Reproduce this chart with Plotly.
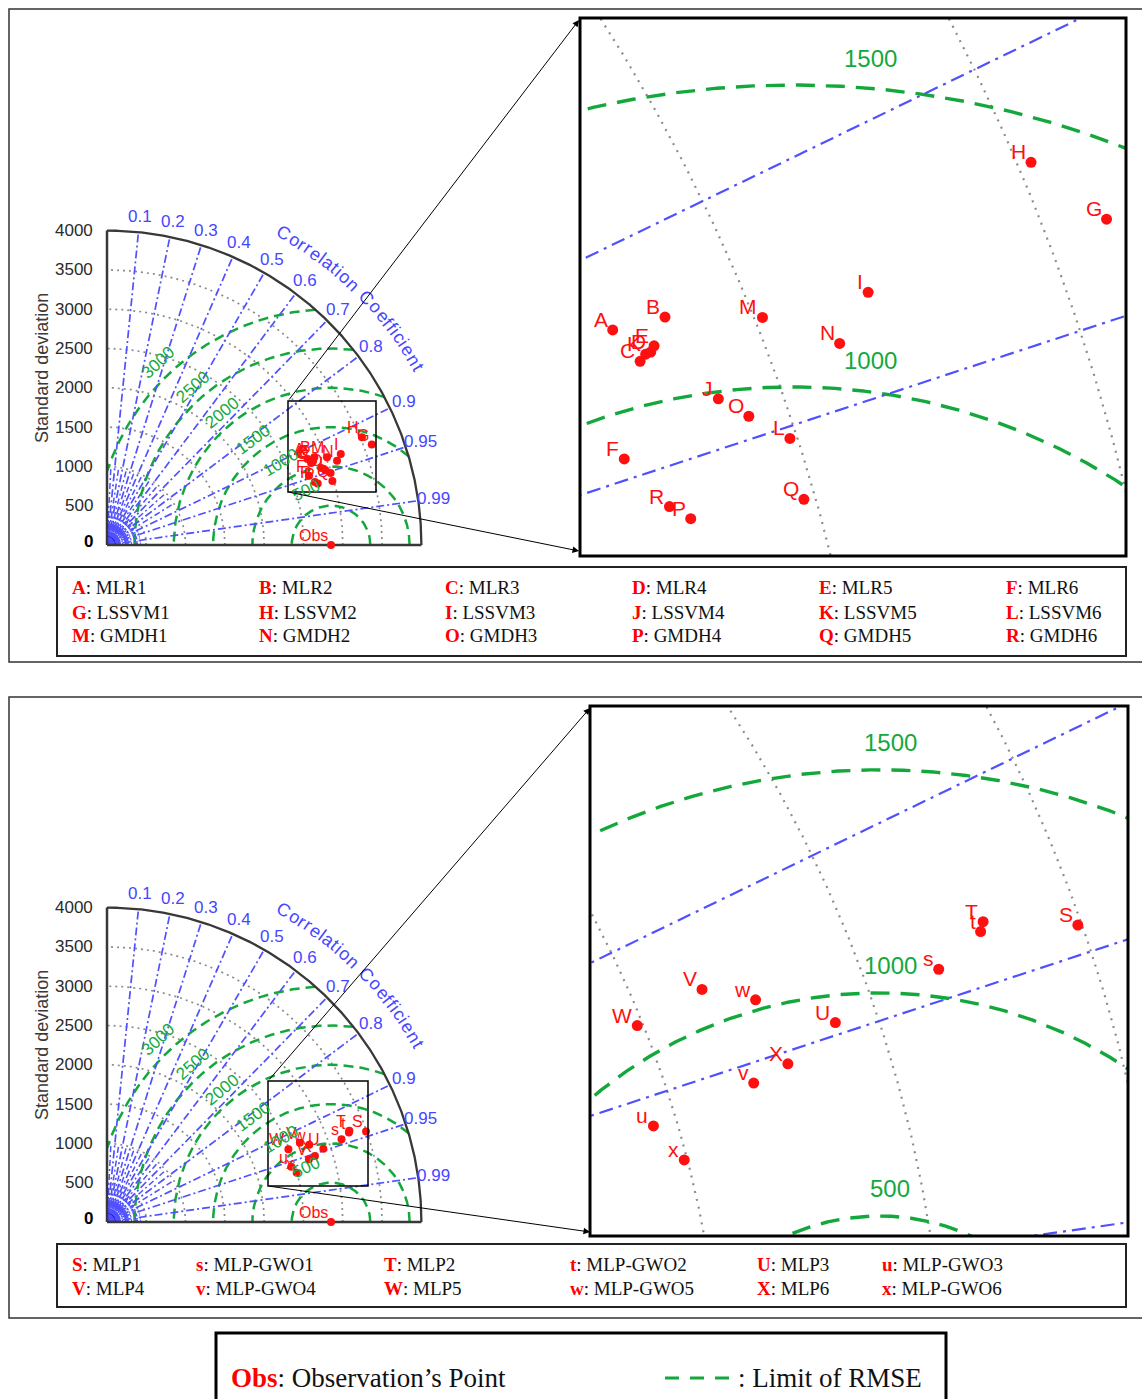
import numpy as np
import plotly.graph_objects as go

W, H = 1142, 1399

# ---------------- data ----------------
obs_std = 2850
std_max = 4000
std_ticks = [0, 500, 1000, 1500, 2000, 2500, 3000, 3500, 4000]
std_grid = [500, 1000, 1500, 2000, 2500, 3000, 3500]
rmse_levels = [500, 1000, 1500, 2000, 2500, 3000]
corr_ticks = [0.1, 0.2, 0.3, 0.4, 0.5, 0.6, 0.7, 0.8, 0.9, 0.95, 0.99]

labels1 = ["A", "B", "C", "D", "E", "F", "G", "H", "I", "J", "K", "L",
           "M", "N", "O", "P", "Q", "R"]
models1 = ["MLR1", "MLR2", "MLR3", "MLR4", "MLR5", "MLR6",
           "LSSVM1", "LSSVM2", "LSSVM3", "LSSVM4", "LSSVM5", "LSSVM6",
           "GMDH1", "GMDH2", "GMDH3", "GMDH4", "GMDH5", "GMDH6"]
std1 = [2776, 2864, 2798, 2820, 2829, 2717, 3603, 3522, 3191, 2897, 2811, 2988,
        3013, 3117, 2935, 2792, 2981, 2764]
corr1 = [0.919, 0.921, 0.928, 0.927, 0.926, 0.946, 0.935, 0.921, 0.932, 0.941, 0.927, 0.952,
         0.929, 0.939, 0.946, 0.960, 0.962, 0.957]

labels2 = ["S", "s", "T", "t", "U", "u", "V", "v", "W", "w", "X", "x"]
models2 = ["MLP1", "MLP-GWO1", "MLP2", "MLP-GWO2", "MLP3", "MLP-GWO3",
           "MLP4", "MLP-GWO4", "MLP5", "MLP-GWO5", "MLP6", "MLP-GWO6"]
std2 = [3491, 3164, 3294, 3281, 2906, 2447, 2652, 2690, 2487, 2755, 2776, 2493]
corr2 = [0.944, 0.943, 0.936, 0.938, 0.947, 0.958, 0.925, 0.955, 0.928, 0.934, 0.953, 0.968]

# ---------------- styles ----------------
RED = "#FF1010"
GREEN = "#14A83C"
BLUE = "#5050FF"
BLUE_T = "#4646FF"
GRAY = "#8C8C8C"
DARK = "#383838"
SANS = "Liberation Sans, Arial, sans-serif"
SERIF = "Liberation Serif, Times New Roman, serif"

fig = go.Figure()
axes = {}
annos = []
shapes = []


def xa(n):
    return "x" if n == 1 else f"x{n}"


def ya(n):
    return "y" if n == 1 else f"y{n}"


def set_axes(n, xpx, ypx, xr, yr):
    kx = "xaxis" if n == 1 else f"xaxis{n}"
    ky = "yaxis" if n == 1 else f"yaxis{n}"
    axes[kx] = dict(domain=[xpx[0] / W, xpx[1] / W], range=xr, visible=False,
                    fixedrange=True, anchor=ya(n))
    axes[ky] = dict(domain=[1 - ypx[1] / H, 1 - ypx[0] / H], range=yr, visible=False,
                    fixedrange=True, anchor=xa(n))


def line(n, x, y, color, width, dash="solid", fill=None):
    x = [None if (v is None or np.isnan(v)) else float(v) for v in x]
    y = [None if (v is None or np.isnan(v)) else float(v) for v in y]
    fig.add_trace(go.Scatter(x=x, y=y, mode="lines", xaxis=xa(n), yaxis=ya(n),
                             line=dict(color=color, width=width, dash=dash),
                             fill=fill, fillcolor=color if fill else None,
                             hoverinfo="skip", showlegend=False))


def draw_taylor(n, std, corr, labels, main):
    gw = 1.7 if main else 2.2
    th = np.linspace(0, np.pi / 2, 361)
    # std dotted arcs
    for r in std_grid:
        line(n, r * np.cos(th), r * np.sin(th), GRAY, gw, "2px,4px" if main else "2px,6px")
    # extra radial fan near origin (main only)
    if main:
        main_angles = [np.degrees(np.arccos(c)) for c in corr_ticks]
        for ang in np.arange(3, 89, 3.0):
            if min(abs(ang - m) for m in main_angles) < 1.2:
                continue
            a = np.radians(ang)
            line(n, [0, 430 * np.cos(a)], [0, 430 * np.sin(a)], BLUE, 1.4, "4px,2px,1px,2px")
        for c in [0.05, 0.15, 0.25, 0.35, 0.45, 0.55, 0.65, 0.75, 0.85]:
            a = np.arccos(c)
            line(n, [0, 1000 * np.cos(a)], [0, 1000 * np.sin(a)], BLUE, 1.5, "6px,3px,2px,3px")
        for r in [170, 240]:
            line(n, r * np.cos(th), r * np.sin(th), BLUE, 1.6)
        line(n, np.r_[0, 110 * np.cos(th), 0], np.r_[0, 110 * np.sin(th), 0], "#1010DD", 1, fill="toself")
    # RMSE arcs centred on observation
    ph = np.linspace(0, np.pi, 2001)
    for R in rmse_levels:
        x = obs_std + R * np.cos(ph)
        y = R * np.sin(ph)
        ok = (x >= 0) & (np.hypot(x, y) <= std_max + 1)
        line(n, np.where(ok, x, np.nan), np.where(ok, y, np.nan), GREEN,
             2.5 if main else 3.4, "10px,6px" if main else "19px,11px")
    # correlation lines
    for c in corr_ticks:
        a = np.arccos(c)
        line(n, [0, std_max * np.cos(a)], [0, std_max * np.sin(a)], BLUE,
             1.7 if main else 2.2, "8px,3px,2px,3px" if main else "14px,6px,3px,6px")
    # frame of the diagram
    if main:
        line(n, std_max * np.cos(th), std_max * np.sin(th), DARK, 2.3)
        line(n, [0, std_max], [0, 0], DARK, 2.5)
        line(n, [0, 0], [0, std_max], DARK, 2.5)
    # model points
    xs = [s * c for s, c in zip(std, corr)]
    ys = [s * np.sqrt(1 - c * c) for s, c in zip(std, corr)]
    fig.add_trace(go.Scatter(x=xs, y=ys, mode="markers", xaxis=xa(n), yaxis=ya(n),
                             marker=dict(color=RED, size=8 if main else 11),
                             hoverinfo="skip", showlegend=False))
    for lab, px_, py_ in zip(labels, xs, ys):
        annos.append(dict(x=px_, y=py_, xref=xa(n), yref=ya(n), text=lab, showarrow=False,
                          xanchor="right", yanchor="bottom",
                          xshift=-1 if main else -3, yshift=-1 if main else -3,
                          font=dict(color=RED, size=16 if main else 21, family=SANS)))
    if main:
        fig.add_trace(go.Scatter(x=[obs_std], y=[0], mode="markers", xaxis=xa(n), yaxis=ya(n),
                                 marker=dict(color=RED, size=8), cliponaxis=False,
                                 hoverinfo="skip", showlegend=False))
        annos.append(dict(x=obs_std, y=0, xref=xa(n), yref=ya(n), text="Obs", showarrow=False,
                          xanchor="right", yanchor="bottom", xshift=-1, yshift=-1,
                          font=dict(color=RED, size=16, family=SANS)))


def main_annotations(n, k):
    xr, yr = xa(n), ya(n)
    for t in std_ticks:
        annos.append(dict(x=-12 / k, y=t + (40 if t == 0 else 0), xref=xr, yref=yr,
                          text=str(t) if t else "<b>0</b>",
                          showarrow=False, xanchor="right", yanchor="middle",
                          font=dict(size=17, color="#2a2a2a" if t else "#000", family=SANS)))
    annos.append(dict(x=-830, y=2250, xref=xr, yref=yr, text="Standard deviation",
                      showarrow=False, textangle=-90, xanchor="center", yanchor="middle",
                      font=dict(size=18, color="#3a3a3a", family=SANS)))
    for c in corr_ticks:
        a = np.arccos(c)
        annos.append(dict(x=4200 * np.cos(a), y=4200 * np.sin(a), xref=xr, yref=yr,
                          text=f"{c:g}", showarrow=False, xanchor="center", yanchor="middle",
                          font=dict(size=17, color=BLUE_T, family=SANS)))
    title = "Correlation Coefficient"
    wtab = {"C": .722, "o": .556, "r": .333, "e": .556, "l": .222, "a": .556, "t": .278,
            "i": .222, "n": .556, " ": .278, "f": .278, "c": .5}
    w = np.array([wtab[ch] for ch in title])
    cen = np.cumsum(w) - w / 2
    frac = (cen - cen[0]) / (cen[-1] - cen[0])
    ths = 60.5 - frac * (60.5 - 29.8)
    for ch, tdeg in zip(title, ths):
        if ch == " ":
            continue
        a = np.radians(tdeg)
        annos.append(dict(x=4560 * np.cos(a), y=4560 * np.sin(a), xref=xr, yref=yr, text=ch,
                          showarrow=False, textangle=90 - tdeg, xanchor="center", yanchor="middle",
                          font=dict(size=18, color=BLUE_T, family=SANS)))
    lab_ang = [114.5, 121.4, 126.3, 129.3, 131.3, 133.4]
    lab_off = [260, 225, 170, 180, 170, 200]
    for R, ang, off in zip(rmse_levels, lab_ang, lab_off):
        a = np.radians(ang)
        annos.append(dict(x=obs_std + (R + off) * np.cos(a), y=(R + off) * np.sin(a),
                          xref=xr, yref=yr, text=str(R), showarrow=False,
                          textangle=-(ang - 90), xanchor="center", yanchor="middle",
                          font=dict(size=17, color=GREEN, family=SANS)))


def inset_labels(n, levels, dx, dy):
    for R in levels:
        annos.append(dict(x=obs_std + dx, y=R + dy, xref=xa(n), yref=ya(n), text=str(R),
                          showarrow=False, xanchor="center", yanchor="middle",
                          font=dict(size=24, color=GREEN, family=SANS)))


def rect(x0, y0, x1, y1, color="black", width=1.5):
    shapes.append(dict(type="rect", xref="paper", yref="paper", x0=x0 / W, x1=x1 / W,
                       y0=1 - y1 / H, y1=1 - y0 / H, line=dict(color=color, width=width),
                       fillcolor="rgba(0,0,0,0)", layer="above"))


def arrow(hx, hy, tx, ty):
    annos.append(dict(x=hx / W, y=1 - hy / H, xref="paper", yref="paper",
                      ax=tx - hx, ay=ty - hy, axref="pixel", ayref="pixel", text="",
                      showarrow=True, arrowhead=2, arrowsize=1.3, arrowwidth=1,
                      arrowcolor="black", standoff=0, startstandoff=0))


def legend_grid(labels, models, cols, rows_y, size=19):
    for i, (lab, mod) in enumerate(zip(labels, models)):
        cx = cols[i % 6]
        cy = rows_y[i // 6]
        annos.append(dict(x=cx / W, y=1 - cy / H, xref="paper", yref="paper",
                          text=f"<b><span style='color:#FF0000'>{lab}</span></b>: {mod}",
                          showarrow=False, xanchor="left", yanchor="middle",
                          font=dict(size=size, color="#111", family=SERIF)))


k = 0.0786  # px per std unit in the main diagrams

# ---------- panel 1 ----------
oy = 545
set_axes(1, (25, 480), (175, 575), [(25 - 107) / k, (480 - 107) / k], [(oy - 575) / k, (oy - 175) / k])
draw_taylor(1, std1, corr1, labels1, True)
main_annotations(1, k)
set_axes(2, (580, 1126), (18, 556), [2497, 3401], [720, 1611])
draw_taylor(2, std1, corr1, labels1, False)
inset_labels(2, [1000, 1500], 128, 44)

# ---------- panel 2 ----------
oy2 = 1222
set_axes(3, (25, 480), (852, 1252), [(25 - 107) / k, (480 - 107) / k], [(oy2 - 1252) / k, (oy2 - 852) / k])
draw_taylor(3, std2, corr2, labels2, True)
main_annotations(3, k)
set_axes(4, (590, 1128), (706, 1236), [2202, 3408], [455, 1643])
draw_taylor(4, std2, corr2, labels2, False)
inset_labels(4, [500, 1000, 1500], 25, 62)

# ---------- frames, boxes, arrows ----------
rect(9, 9, 1160, 662, "#333", 1.5)
rect(9, 697, 1160, 1318, "#333", 1.5)
rect(580, 18, 1126, 556, "black", 3)
rect(590, 706, 1128, 1236, "black", 3)
rect(288, 401, 376, 492, "black", 1.5)
rect(268, 1081, 368, 1186, "black", 1.5)
arrow(579, 20, 288, 401)
arrow(579, 551, 288, 492)
arrow(590, 708, 268, 1081)
arrow(590, 1232, 268, 1186)

# legends
rect(57, 567, 1126, 656, "#222", 2)
legend_grid(labels1, models1, [70, 257, 443, 630, 817, 1004], [587, 612, 636])
rect(57, 1244, 1126, 1307, "#222", 2)
legend_grid(labels2, models2, [70, 194, 382, 568, 755, 880], [1264, 1288])

rect(216, 1333, 946, 1410, "black", 3)
annos.append(dict(x=229 / W, y=1 - 1378 / H, xref="paper", yref="paper",
                  text="<b><span style='color:#FF0000'>Obs</span></b>: Observation’s Point",
                  showarrow=False, xanchor="left", yanchor="middle",
                  font=dict(size=27, color="#111", family=SERIF)))
shapes.append(dict(type="line", xref="paper", yref="paper", x0=665 / W, x1=737 / W,
                   y0=1 - 1378 / H, y1=1 - 1378 / H,
                   line=dict(color=GREEN, width=3, dash="14px,11px")))
annos.append(dict(x=736 / W, y=1 - 1378 / H, xref="paper", yref="paper",
                  text=": Limit of RMSE", showarrow=False, xanchor="left", yanchor="middle",
                  font=dict(size=27, color="#111", family=SERIF)))

fig.update_layout(width=W, height=H, margin=dict(l=0, r=0, t=0, b=0), autosize=False,
                  paper_bgcolor="white", plot_bgcolor="rgba(0,0,0,0)",
                  showlegend=False, annotations=annos, shapes=shapes, **axes)
fig.write_html("out.html")
